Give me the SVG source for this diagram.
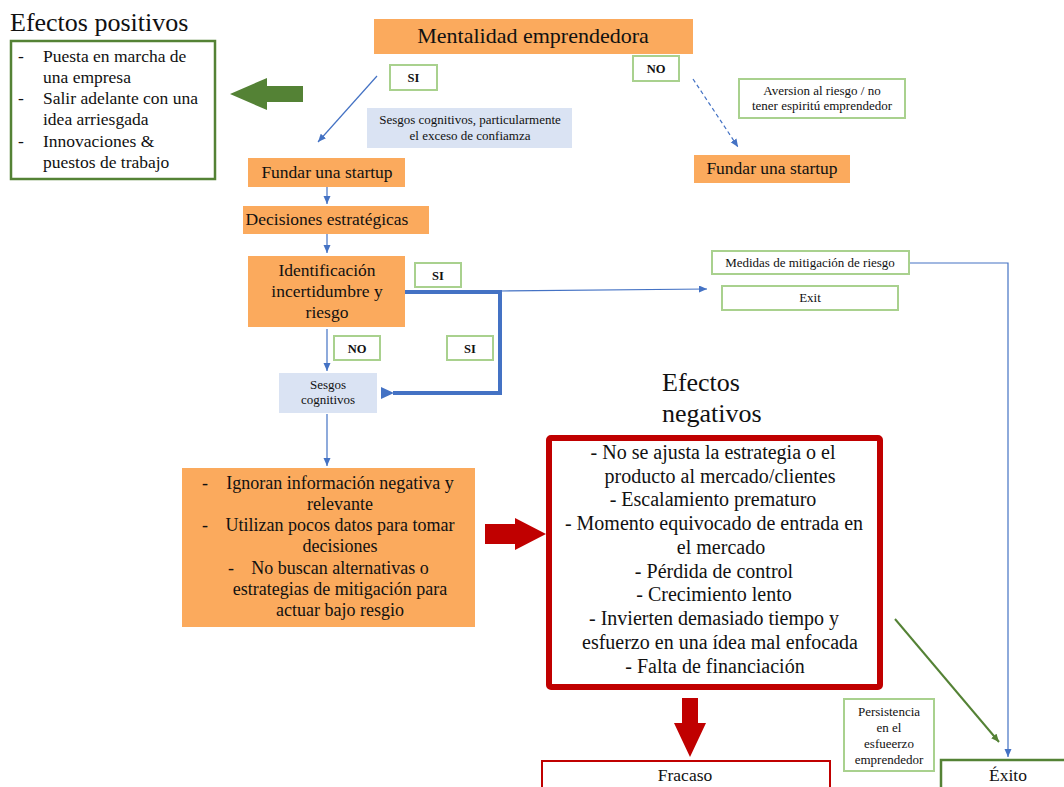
<svg xmlns="http://www.w3.org/2000/svg" width="1064" height="787" viewBox="0 0 1064 787">
<style>
text{font-family:"Liberation Serif","Times New Roman",serif;fill:#111;}
.orange{fill:#FBAA5D;stroke:none;}
.lblue{fill:#DAE3F3;stroke:none;}
.lbl{fill:#fff;stroke:#A9D18E;stroke-width:2;}
.c{text-anchor:middle;}
.t13{font-size:13px;}
.t175{font-size:17.5px;}
.t18{font-size:18px;}
.t20{font-size:20px;}
.t26{font-size:26px;}
.b{font-size:12.5px;font-weight:bold;}
.conn{fill:none;stroke:#4472C4;stroke-width:1.2;}
</style>
<defs>
<marker id="ab" markerWidth="9" markerHeight="8" refX="8" refY="3.5" orient="auto" markerUnits="userSpaceOnUse"><path d="M0,0 L8,3.5 L0,7 z" fill="#4472C4"/></marker>
<marker id="abig" markerWidth="14" markerHeight="12" refX="1" refY="6" orient="auto" markerUnits="userSpaceOnUse"><path d="M0,6 L13,0 L13,12 z" fill="#4472C4"/></marker>
<marker id="ag" markerWidth="9" markerHeight="8" refX="8" refY="3.5" orient="auto" markerUnits="userSpaceOnUse"><path d="M0,0 L8,3.5 L0,7 z" fill="#548235"/></marker>
</defs>
<rect width="1064" height="787" fill="#fff"/>

<g id="connectors">
<line class="conn" x1="377" y1="76" x2="318" y2="142" marker-end="url(#ab)"/>
<line class="conn" x1="693" y1="79" x2="738" y2="147" stroke-dasharray="4,3" marker-end="url(#ab)"/>
<line class="conn" x1="327" y1="187" x2="327" y2="204" marker-end="url(#ab)"/>
<line class="conn" x1="327" y1="234" x2="327" y2="253" marker-end="url(#ab)"/>
<line class="conn" x1="327" y1="329" x2="327" y2="371" marker-end="url(#ab)"/>
<line class="conn" x1="327" y1="414" x2="327" y2="466" marker-end="url(#ab)"/>
<line class="conn" x1="500" y1="291" x2="707" y2="289" marker-end="url(#ab)"/>
<polyline points="405,292 500,292 500,393 393,393" fill="none" stroke="#4472C4" stroke-width="4" marker-end="url(#abig)"/>
<polyline class="conn" points="909,263 1008,263 1008,757" marker-end="url(#ab)"/>
<line x1="895" y1="619" x2="999" y2="742" stroke="#548235" stroke-width="2" marker-end="url(#ag)"/>
<polygon points="303,86 267,86 267,78 230,94 267,110 267,102 303,102" fill="#548235"/>
<polygon points="485,524 515,524 515,518 546,534 515,550 515,544 485,544" fill="#C00000"/>
<polygon points="682,698 698,698 698,723 706,723 690,757 674,723 682,723" fill="#C00000"/>
</g>

<g id="title-positivos"><text class="t26" x="10" y="31">Efectos positivos</text></g>
<g id="efectos-positivos">
<rect x="11" y="41" width="204" height="138" fill="#fff" stroke="#548235" stroke-width="2.5"/>
<text class="t175" x="18" y="62">-</text><text class="t175" x="43" y="62">Puesta en marcha de</text>
<text class="t175" x="43" y="83">una empresa</text>
<text class="t175" x="18" y="104">-</text><text class="t175" x="43" y="104">Salir adelante con una</text>
<text class="t175" x="43" y="125">idea arriesgada</text>
<text class="t175" x="18" y="147">-</text><text class="t175" x="43" y="147">Innovaciones &amp;</text>
<text class="t175" x="43" y="168">puestos de trabajo</text>
</g>

<g id="mentalidad">
<rect class="orange" x="374" y="19" width="319" height="35"/>
<text class="c" x="533" y="43" style="font-size:22px">Mentalidad emprendedora</text>
</g>
<g id="lbl-si-1"><rect class="lbl" x="390" y="65" width="47" height="25"/><text class="b c" x="413.5" y="82">SI</text></g>
<g id="lbl-no-1"><rect class="lbl" x="633" y="56" width="46" height="25"/><text class="b c" x="656" y="73">NO</text></g>
<g id="sesgos-confianza">
<rect class="lblue" x="367" y="108" width="205" height="40"/>
<text class="t13 c" x="470" y="124">Sesgos cognitivos, particularmente</text>
<text class="t13 c" x="470" y="140">el exceso de confiamza</text>
</g>
<g id="aversion">
<rect class="lbl" x="739" y="79" width="166" height="39"/>
<text class="t13 c" x="822" y="95">Aversion al riesgo / no</text>
<text class="t13 c" x="822" y="110">tener espiritú emprendedor</text>
</g>
<g id="fundar-no">
<rect class="orange" x="694" y="155" width="156" height="28"/>
<text class="t175 c" x="772" y="174">Fundar una startup</text>
</g>
<g id="fundar-si">
<rect class="orange" x="248" y="158" width="157" height="29"/>
<text class="t175 c" x="327" y="178">Fundar una startup</text>
</g>
<g id="decisiones">
<rect class="orange" x="243" y="206" width="186" height="28"/>
<text class="t175 c" x="327" y="225">Decisiones estratégicas</text>
</g>
<g id="identificacion">
<rect class="orange" x="248" y="256" width="157" height="71"/>
<text class="t175 c" x="327" y="276">Identificación</text>
<text class="t175 c" x="327" y="297">incertidumbre y</text>
<text class="t175 c" x="327" y="318">riesgo</text>
</g>
<g id="lbl-si-2"><rect class="lbl" x="415" y="263" width="46" height="24"/><text class="b c" x="438" y="280">SI</text></g>
<g id="lbl-no-2"><rect class="lbl" x="334" y="336" width="46" height="24"/><text class="b c" x="357" y="353">NO</text></g>
<g id="lbl-si-3"><rect class="lbl" x="447" y="336" width="46" height="24"/><text class="b c" x="470" y="353">SI</text></g>
<g id="medidas">
<rect class="lbl" x="712" y="251" width="197" height="23"/>
<text class="t13 c" x="810" y="267">Medidas de mitigación de riesgo</text>
</g>
<g id="exit">
<rect class="lbl" x="722" y="286" width="176" height="24"/>
<text class="t13 c" x="810" y="302">Exit</text>
</g>
<g id="sesgos-cognitivos">
<rect class="lblue" x="279" y="373" width="98" height="40"/>
<text class="t13 c" x="328" y="389">Sesgos</text>
<text class="t13 c" x="328" y="404">cognitivos</text>
</g>
<g id="consecuencias">
<rect class="orange" x="182" y="468" width="293" height="159"/>
<text class="t18" x="202" y="489">-</text><text class="t18 c" x="340" y="489">Ignoran información negativa y</text>
<text class="t18 c" x="340" y="510">relevante</text>
<text class="t18" x="202" y="531">-</text><text class="t18 c" x="340" y="531">Utilizan pocos datos para tomar</text>
<text class="t18 c" x="340" y="552">decisiones</text>
<text class="t18" x="228" y="574">-</text><text class="t18 c" x="340" y="574">No buscan alternativas o</text>
<text class="t18 c" x="340" y="595">estrategias de mitigación para</text>
<text class="t18 c" x="340" y="616">actuar bajo resgio</text>
</g>
<g id="title-negativos">
<text class="t26" x="662" y="391">Efectos</text>
<text class="t26" x="662" y="422">negativos</text>
</g>
<g id="efectos-negativos">
<rect x="549" y="438" width="331" height="249" fill="#fff" stroke="#C00000" stroke-width="6" rx="2"/>
<text class="t20 c" x="713" y="459">- No se ajusta la estrategia o el</text>
<text class="t20 c" x="720" y="483">producto al mercado/clientes</text>
<text class="t20 c" x="713" y="506">- Escalamiento prematuro</text>
<text class="t20 c" x="714" y="530">- Momento equivocado de entrada en</text>
<text class="t20 c" x="721" y="554">el mercado</text>
<text class="t20 c" x="714" y="578">- Pérdida de control</text>
<text class="t20 c" x="714" y="601">- Crecimiento lento</text>
<text class="t20 c" x="714" y="625">- Invierten demasiado tiempo y</text>
<text class="t20 c" x="720" y="649">esfuerzo en una ídea mal enfocada</text>
<text class="t20 c" x="715" y="673">- Falta de financiación</text>
</g>
<g id="persistencia">
<rect class="lbl" x="844" y="699" width="90" height="72"/>
<text class="t13 c" x="889" y="716">Persistencia</text>
<text class="t13 c" x="889" y="732">en el</text>
<text class="t13 c" x="889" y="748">esfueerzo</text>
<text class="t13 c" x="889" y="764">emprendedor</text>
</g>
<g id="fracaso">
<rect x="542" y="761" width="288" height="40" fill="#fff" stroke="#C00000" stroke-width="2"/>
<text class="t175 c" x="685" y="781">Fracaso</text>
</g>
<g id="exito">
<rect x="941" y="760" width="140" height="40" fill="#fff" stroke="#548235" stroke-width="2.5"/>
<text class="t175 c" x="1008" y="781">Éxito</text>
</g>
</svg>
